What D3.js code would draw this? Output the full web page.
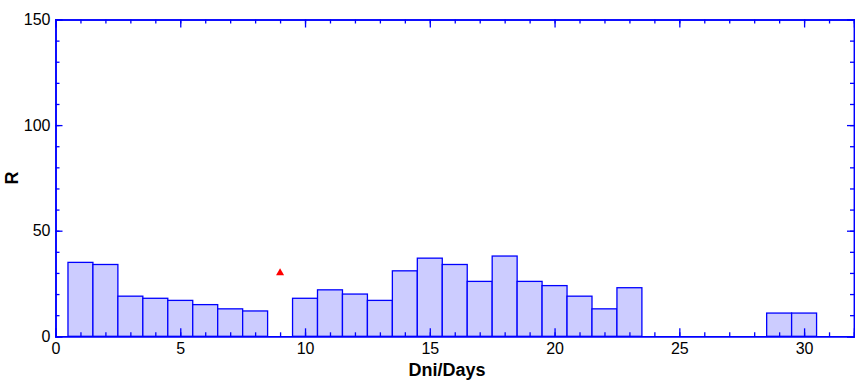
<!DOCTYPE html>
<html>
<head>
<meta charset="utf-8">
<script src="https://cdn.jsdelivr.net/npm/d3@7"></script>
<style>
  body { margin: 0; background: #fff; }
  svg { font-family: "Liberation Sans", Arial, sans-serif; }
  .tick text { fill: #000; font-size: 16px; }
</style>
</head>
<body>
<div id="chart"></div>
<script>
// day of month and R value for each bar
const days = [1, 2, 3, 4, 5, 6, 7, 8, 10, 11, 12, 13, 14, 15, 16, 17, 18, 19, 20, 21, 22, 23, 29, 30];
const counts = [35, 34, 19, 18, 17, 15, 13, 12, 18, 22, 20, 17, 31, 37, 34, 26, 38, 26, 24, 19, 13, 23, 11, 11];

// lone marker point
const markerDays = [9];
const markerValues = [30];

const xTicks = [0, 5, 10, 15, 20, 25, 30];
const yTicks = [0, 50, 100, 150];

const W = 855, H = 381;
const margin = { top: 19.5, right: 1, bottom: 44.7, left: 55.5 };
const width = W - margin.left - margin.right,
  height = H - margin.top - margin.bottom;

const blue = "#0000ff";

const svg = d3
  .select("#chart")
  .append("svg")
  .attr("width", W)
  .attr("height", H);

const g = svg.append("g").attr("transform", `translate(${margin.left},${margin.top})`);

const x = d3.scaleLinear().domain([0, 32]).range([0, width]);
const y = d3.scaleLinear().domain([0, 150]).range([height, 0]);

// bars
g.selectAll(".bar")
  .data(days.map((d, i) => ({ day: d, value: counts[i] })))
  .enter()
  .append("rect")
  .attr("class", "bar")
  .attr("x", (d) => x(d.day - 0.5))
  .attr("y", (d) => y(d.value))
  .attr("width", (d) => x(d.day + 0.5) - x(d.day - 0.5))
  .attr("height", (d) => y(0) - y(d.value))
  .attr("fill", "#ccccff")
  .attr("stroke", blue)
  .attr("stroke-width", 1.3);

// marker
g.selectAll(".marker")
  .data(markerDays.map((d, i) => ({ day: d, value: markerValues[i] })))
  .enter()
  .append("path")
  .attr("class", "marker")
  .attr("d", d3.symbol().type(d3.symbolTriangle).size(28))
  .attr("transform", (d) => `translate(${x(d.day)},${y(d.value)})`)
  .attr("fill", "#ff0000");

// axes: minor ticks first, then major ticks with labels
function styleAxis(sel) {
  sel.select(".domain").attr("stroke", blue).attr("stroke-width", 1.5);
  sel.selectAll(".tick line").attr("stroke", blue).attr("stroke-width", 1.3);
}

const minorX = d3.range(0, 33, 1);
const minorY = d3.range(0, 151, 10);

g.append("g")
  .attr("transform", `translate(0,${height})`)
  .call(d3.axisBottom(x).tickValues(minorX).tickSize(-4).tickFormat(""))
  .call(styleAxis);
g.append("g")
  .attr("transform", `translate(0,${height})`)
  .call(d3.axisBottom(x).tickValues(xTicks).tickSize(-8).tickPadding(6).tickFormat(d3.format("d")))
  .call(styleAxis);

g.append("g")
  .call(d3.axisTop(x).tickValues(minorX).tickSize(-4).tickFormat(""))
  .call(styleAxis);
g.append("g")
  .call(d3.axisTop(x).tickValues(xTicks).tickSize(-8).tickFormat(""))
  .call(styleAxis);

g.append("g")
  .call(d3.axisLeft(y).tickValues(minorY).tickSize(-4).tickFormat(""))
  .call(styleAxis);
g.append("g")
  .call(d3.axisLeft(y).tickValues(yTicks).tickSize(-7).tickPadding(5).tickFormat(d3.format("d")))
  .call(styleAxis);

g.append("g")
  .attr("transform", `translate(${width},0)`)
  .call(d3.axisRight(y).tickValues(minorY).tickSize(-4).tickFormat(""))
  .call(styleAxis);
g.append("g")
  .attr("transform", `translate(${width},0)`)
  .call(d3.axisRight(y).tickValues(yTicks).tickSize(-7).tickFormat(""))
  .call(styleAxis);

g.selectAll(".tick text").style("font-size", "16px").attr("fill", "#000");

// axis titles
svg
  .append("text")
  .attr("x", 447)
  .attr("y", 376)
  .attr("text-anchor", "middle")
  .style("font-size", "18px")
  .style("font-weight", "bold")
  .text("Dni/Days");

svg
  .append("text")
  .attr("transform", "translate(18,178) rotate(-90)")
  .attr("text-anchor", "middle")
  .style("font-size", "18px")
  .style("font-weight", "bold")
  .text("R");
</script>
</body>
</html>
